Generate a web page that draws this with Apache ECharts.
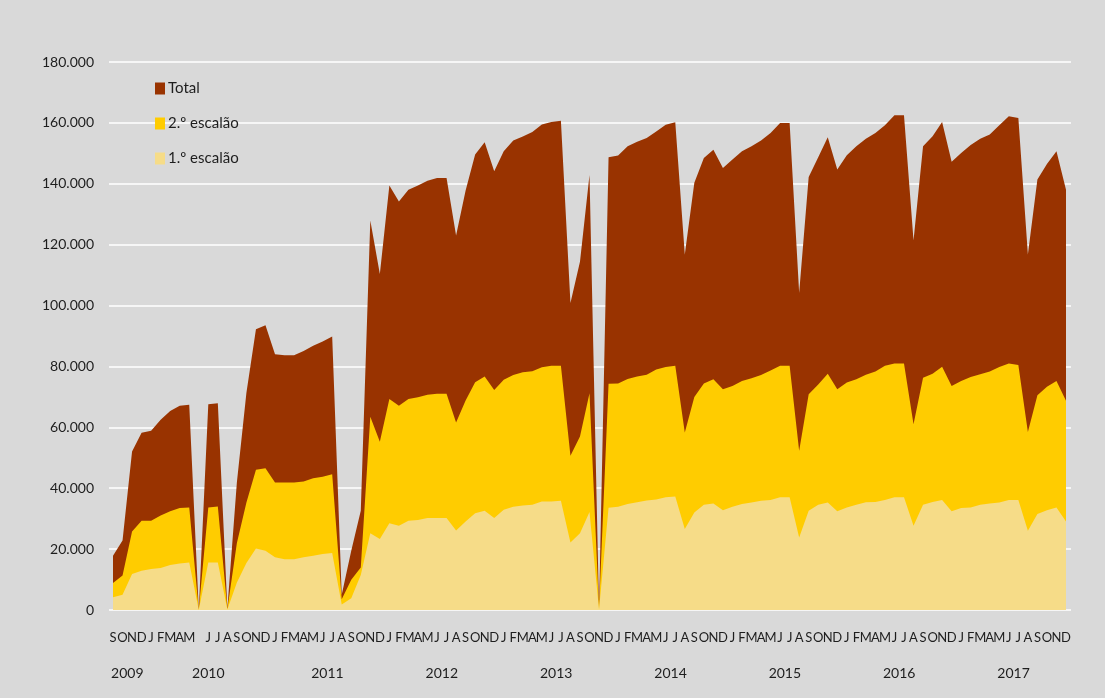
<!DOCTYPE html>
<html>
<head>
<meta charset="utf-8">
<script src="https://cdn.jsdelivr.net/npm/echarts@6/dist/echarts.min.js"></script>
<style>
  html, body { margin: 0; padding: 0; background: #d9d9d9; }
  #chart { width: 1105px; height: 698px; }
</style>
</head>
<body>
<div id="chart"></div>
<script>
// Monthly category labels, Sep 2009 – Dec 2017 (one empty slot in 2010)
const monthLabels = [
  'S','O','N','D',
  'J','F','M','A','M','','J','J','A','S','O','N','D',
  'J','F','M','A','M','J','J','A','S','O','N','D',
  'J','F','M','A','M','J','J','A','S','O','N','D',
  'J','F','M','A','M','J','J','A','S','O','N','D',
  'J','F','M','A','M','J','J','A','S','O','N','D',
  'J','F','M','A','M','J','J','A','S','O','N','D',
  'J','F','M','A','M','J','J','A','S','O','N','D',
  'J','F','M','A','M','J','J','A','S','O','N','D'
];

// Year groups: [label, first index, last index]
const yearGroups = [
  ['2009', 0, 3], ['2010', 4, 16], ['2011', 17, 28], ['2012', 29, 40],
  ['2013', 41, 52], ['2014', 53, 64], ['2015', 65, 76], ['2016', 77, 88],
  ['2017', 89, 100]
];

const totalValues = [
  17800, 22800, 52100, 58200,
  58900, 62500, 65400, 67100, 67400, 0, 67600, 67900, 500, 42000, 71400, 92200, 93500,
  84000, 83700, 83700, 85100, 86800, 88200, 89800, 5000, 19500, 32600, 127900, 110400,
  139400, 134200, 138000, 139400, 141000, 141900, 141900, 123000, 137800, 149600, 153600, 144100,
  150700, 154200, 155500, 157000, 159500, 160300, 160700, 100800, 114400, 142900, 500, 148700,
  149300, 152300, 153800, 155000, 157200, 159400, 160200, 116800, 140300, 148500, 151200, 145200,
  148000, 150700, 152300, 154200, 156700, 160000, 160000, 104200, 142200, 148700, 155300, 144700,
  149400, 152300, 154800, 156700, 159200, 162500, 162500, 121400, 152300, 155600, 160300, 147200,
  150100, 152700, 154800, 156200, 159200, 162200, 161600, 116800, 141400, 146500, 150700, 138000
];

const escalao2Values = [
  8900, 11300, 25800, 29300,
  29300, 31000, 32400, 33500, 33700, 0, 33700, 34000, 300, 22000, 35300, 46100, 46600,
  41900, 41900, 41900, 42200, 43300, 43800, 44600, 3500, 9900, 14000, 63500, 55300,
  69300, 67100, 69300, 69900, 70700, 71000, 71000, 61600, 68800, 74800, 76700, 72300,
  75600, 77200, 78100, 78400, 79700, 80200, 80200, 50700, 57000, 71200, 300, 74300,
  74400, 75900, 76700, 77300, 79000, 79800, 80200, 58300, 70000, 74400, 75800, 72500,
  73600, 75200, 76100, 77200, 78700, 80200, 80200, 52300, 70900, 74100, 77600, 72500,
  74700, 75800, 77300, 78300, 80200, 81000, 81000, 61000, 76300, 77600, 79900, 73600,
  75200, 76500, 77400, 78300, 79800, 81000, 80500, 58500, 70500, 73300, 75200, 68700
];

const escalao1Values = [
  4200, 5000, 11800, 12900,
  13500, 13800, 14800, 15300, 15600, 0, 15600, 15600, 200, 9000, 15400, 20200, 19500,
  17300, 16700, 16700, 17300, 17800, 18400, 18700, 1800, 3900, 11500, 25200, 23300,
  28500, 27700, 29300, 29600, 30200, 30200, 30200, 26100, 29100, 31800, 32600, 30200,
  32900, 33900, 34300, 34600, 35600, 35600, 35900, 22200, 25200, 32200, 200, 33600,
  33900, 34800, 35400, 36000, 36300, 37000, 37300, 26600, 32000, 34600, 35000, 32800,
  33900, 34800, 35300, 35900, 36100, 37000, 37000, 23800, 32600, 34600, 35300, 32400,
  33700, 34600, 35400, 35500, 36100, 37000, 37000, 27700, 34600, 35500, 36100, 32400,
  33500, 33700, 34600, 35000, 35300, 36100, 36100, 26000, 31500, 32800, 33700, 29100
];

const seriesNames = ['Total', '2.º escalão', '1.º escalão'];
const seriesColors = ['#993300', '#ffcc00', '#f6dc88'];

const FONT = 'Lato, "Open Sans", sans-serif';
const TEXT = '#1e1e1e';
const Y_MAX = 180000;
const Y_STEP = 20000;

const chart = echarts.init(document.getElementById('chart'), null, { renderer: 'canvas' });

function areaSeries(name, data, color, z) {
  return {
    name: name,
    type: 'line',
    xAxisIndex: 0,
    yAxisIndex: 0,
    data: data,
    z: z,
    symbol: 'none',
    showSymbol: false,
    smooth: false,
    lineStyle: { width: 0, color: color },
    itemStyle: { color: color },
    areaStyle: { color: color, opacity: 1 },
    emphasis: { disabled: true }
  };
}

chart.setOption({
  backgroundColor: '#d9d9d9',
  animation: false,
  textStyle: { fontFamily: FONT },
  // grid 0 holds the areas; grid 1 is slightly wider and carries the value scale and gridlines
  grid: [
    { left: 113, right: 39, top: 62, bottom: 88, z: 2 },
    { left: 109, right: 34, top: 62, bottom: 88, z: 0 }
  ],
  legend: {
    orient: 'vertical',
    left: 150,
    top: 76,
    itemWidth: 10,
    itemHeight: 12,
    itemGap: 20,
    icon: 'rect',
    data: seriesNames,
    textStyle: { fontFamily: FONT, fontSize: 15, color: TEXT, padding: [0, 0, 0, -2] }
  },
  xAxis: [
    {
      type: 'category',
      gridIndex: 0,
      data: monthLabels,
      boundaryGap: false,
      axisLine: { show: false },
      axisTick: { show: false },
      splitLine: { show: false },
      axisLabel: {
        interval: 0,
        margin: 21,
        fontFamily: FONT,
        fontSize: 13,
        color: TEXT
      }
    },
    {
      type: 'value',
      gridIndex: 1,
      show: false
    }
  ],
  yAxis: [
    {
      type: 'value',
      gridIndex: 0,
      min: 0,
      max: Y_MAX,
      interval: Y_STEP,
      show: false,
      splitLine: { show: false }
    },
    {
      type: 'value',
      gridIndex: 1,
      min: 0,
      max: Y_MAX,
      interval: Y_STEP,
      axisLine: { show: false },
      axisTick: { show: false },
      splitLine: { show: true, lineStyle: { color: '#ffffff', width: 1.5 } },
      axisLabel: {
        margin: 15,
        fontFamily: FONT,
        fontSize: 14,
        color: TEXT,
        formatter: function (v) {
          return v === 0 ? '0' : (v / 1000).toFixed(3);
        }
      }
    }
  ],
  series: [
    areaSeries(seriesNames[0], totalValues, seriesColors[0], 2),
    areaSeries(seriesNames[1], escalao2Values, seriesColors[1], 3),
    areaSeries(seriesNames[2], escalao1Values, seriesColors[2], 4)
  ]
});

// Year captions centred under each group of months
const yearY = chart.convertToPixel({ yAxisIndex: 0 }, 0) + 63;
chart.setOption({
  graphic: yearGroups.map(function (g) {
    const x0 = chart.convertToPixel({ xAxisIndex: 0 }, g[1]);
    const x1 = chart.convertToPixel({ xAxisIndex: 0 }, g[2]);
    return {
      type: 'text',
      x: (x0 + x1) / 2,
      y: yearY,
      style: {
        text: g[0],
        fontFamily: FONT,
        fontSize: 14,
        fill: TEXT,
        textAlign: 'center',
        textVerticalAlign: 'middle'
      }
    };
  })
});
</script>
</body>
</html>
